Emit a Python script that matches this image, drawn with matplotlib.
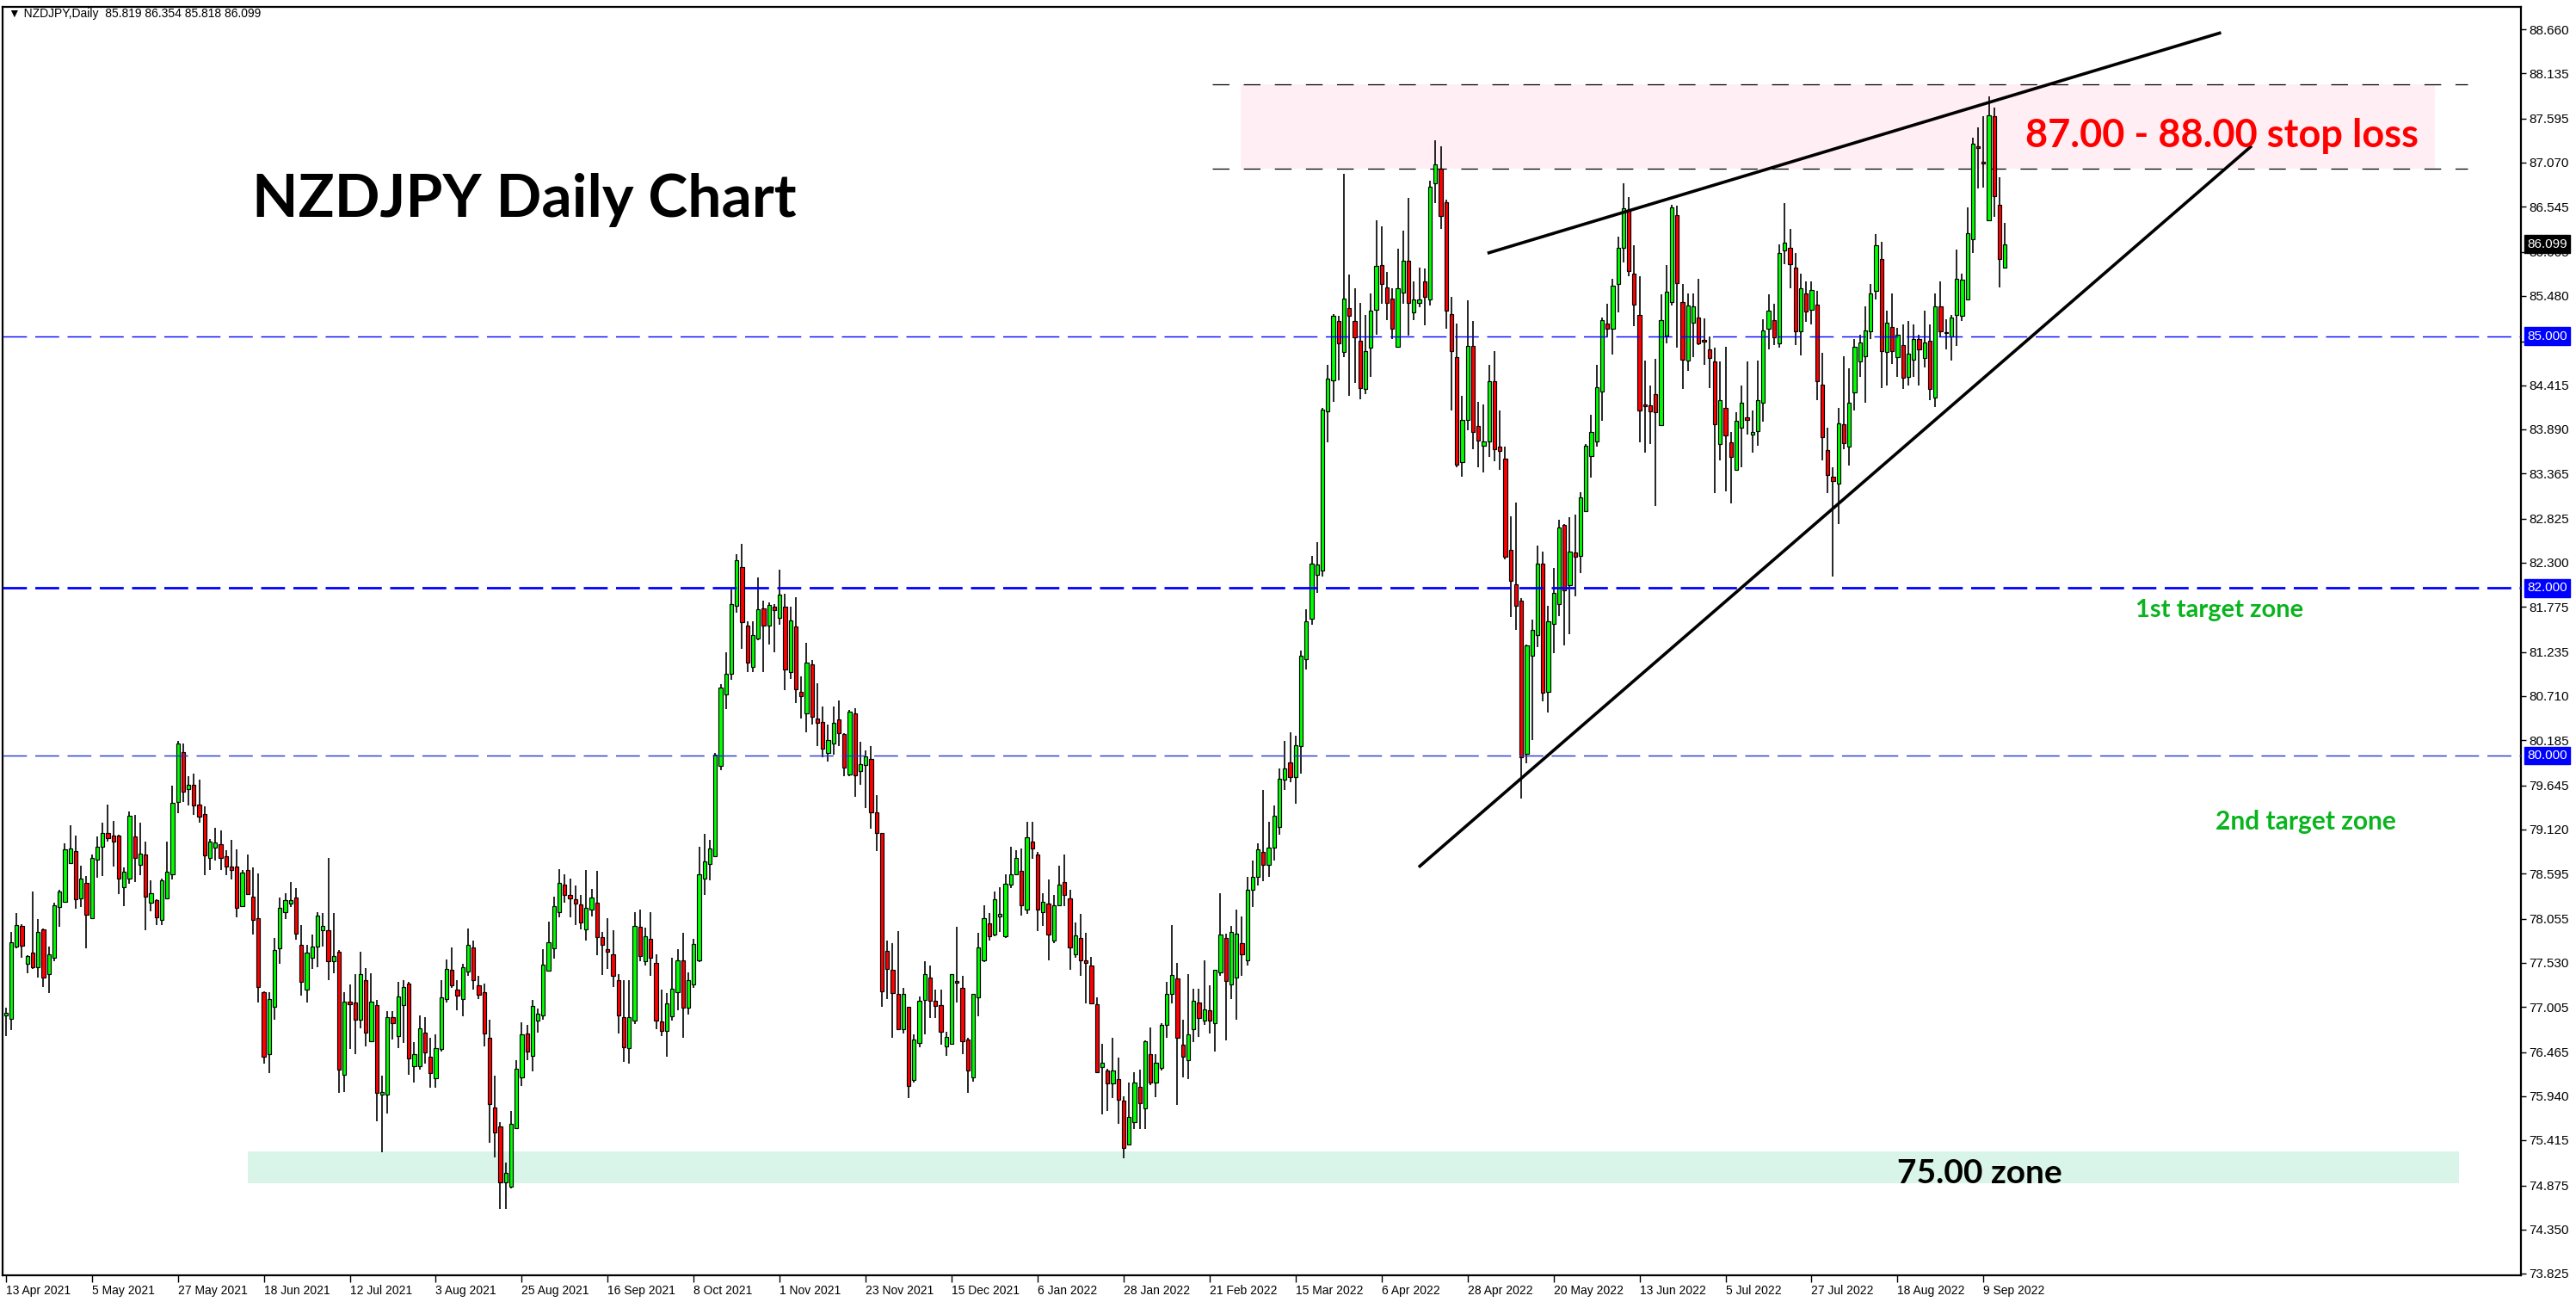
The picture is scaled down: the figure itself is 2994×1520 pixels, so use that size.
import matplotlib
matplotlib.use("Agg")
import matplotlib.pyplot as plt
from matplotlib.patches import Rectangle
from matplotlib.transforms import blended_transform_factory
import numpy as np

plt.rcParams['lines.scale_dashes'] = False

# ---------------- data (NZDJPY daily) ----------------
opens = [
76.90,76.86,77.72,77.97,77.52,77.65,77.48,77.93,77.39,77.59,
78.20,78.26,78.72,78.86,78.30,78.48,78.06,78.76,78.91,79.08,
79.05,79.05,78.43,78.53,79.04,78.70,78.82,78.25,78.28,78.04,
78.30,78.59,79.45,80.04,79.60,79.65,79.42,79.30,78.78,78.90,
78.94,78.80,78.68,78.68,78.21,78.64,78.32,78.06,77.18,76.44,
77.01,77.70,78.13,78.24,78.31,77.74,77.21,77.59,77.72,77.92,
77.92,77.55,77.66,76.19,77.07,77.06,76.85,77.32,76.59,77.03,
75.96,75.96,76.88,76.66,77.03,77.28,76.30,76.30,76.70,76.41,
76.15,76.50,77.10,77.45,77.21,77.10,77.43,77.71,77.26,77.18,
76.64,75.80,75.58,74.91,74.86,75.56,76.16,76.69,76.42,76.84,
76.90,77.44,77.70,78.13,78.46,78.34,78.29,78.23,77.93,78.16,
78.25,77.84,77.69,77.63,77.32,76.88,76.51,76.84,77.96,77.55,
77.82,77.53,76.83,76.72,76.89,77.18,77.56,76.99,77.27,77.56,
78.53,78.71,78.80,79.88,80.73,80.98,81.79,82.25,81.55,81.06,
81.40,81.76,81.55,81.78,81.64,81.78,81.00,81.54,80.76,80.50,
81.09,80.44,80.40,80.03,80.14,80.43,80.26,79.78,80.50,79.82,
79.89,79.96,79.32,79.08,77.67,77.45,77.16,76.74,77.00,76.13,
76.57,77.09,77.35,77.08,77.03,76.53,76.56,77.31,77.23,76.62,
76.16,77.12,77.56,78.00,77.87,78.08,77.85,78.46,78.59,78.63,
78.16,78.98,78.82,78.13,78.24,77.80,78.22,78.49,78.30,77.63,
77.83,77.56,77.50,77.04,76.29,76.25,76.09,76.14,75.89,75.36,
75.63,76.05,75.79,76.44,76.10,76.28,76.79,77.16,77.34,76.55,
76.37,76.74,77.06,76.84,76.96,76.81,77.42,77.83,77.27,77.35,
77.76,77.56,78.40,78.55,78.85,78.70,78.90,79.15,79.71,79.92,
79.74,80.11,81.15,81.63,82.16,82.21,84.10,84.47,85.18,84.81,
85.34,85.18,84.95,84.37,84.86,85.32,85.85,85.58,85.45,84.87,
85.52,85.90,85.28,85.40,85.65,85.44,86.82,87.00,86.60,85.26,
84.75,83.50,84.00,84.88,83.93,83.69,83.75,84.46,83.68,83.54,
82.45,82.04,81.85,80.02,81.19,81.44,82.29,80.76,81.57,81.81,
82.75,82.03,82.42,82.38,82.91,83.57,83.75,84.34,85.15,85.09,
85.62,86.05,86.51,85.75,85.25,84.19,84.18,84.31,83.94,85.01,
85.41,86.44,85.41,84.71,85.16,85.22,84.95,84.84,84.70,83.72,
84.15,83.74,83.41,83.91,84.03,83.83,83.87,84.21,85.09,85.19,
84.92,86.02,86.05,85.82,85.06,85.51,85.32,85.38,84.42,83.64,
83.33,83.24,83.95,83.68,84.33,84.70,84.76,85.06,85.54,85.92,
84.81,85.11,84.75,84.90,84.52,84.72,84.97,84.74,84.95,84.27,
85.36,85.05,85.00,85.25,85.24,85.44,86.16,87.27,87.08,86.38,
87.62,86.57,85.819]

highs = [
76.99,77.90,78.12,77.99,77.62,78.38,78.05,77.94,77.72,78.25,
78.40,78.95,79.17,79.05,78.69,78.56,78.82,79.04,79.20,79.42,
79.22,79.06,78.67,79.33,79.29,79.20,78.97,78.51,78.29,78.53,
78.97,79.64,80.18,80.14,79.75,79.79,79.71,79.40,79.01,79.14,
79.11,78.87,79.00,78.88,78.64,78.82,78.67,78.60,77.19,77.18,
77.83,78.31,78.36,78.49,78.42,77.98,77.74,77.87,78.13,78.12,
78.78,78.12,77.68,77.18,77.27,77.39,77.66,77.47,77.41,77.09,
76.18,76.95,76.95,77.30,77.32,77.30,76.58,76.90,76.88,76.64,
76.68,77.32,77.57,77.71,77.32,77.52,77.94,77.79,77.37,77.28,
76.85,76.18,75.63,75.15,75.76,76.37,76.82,76.79,77.09,76.98,
77.69,78.02,78.32,78.65,78.58,78.53,78.45,78.34,78.64,78.41,
78.63,77.90,78.06,77.92,77.39,77.32,77.32,78.13,78.16,77.95,
78.13,77.63,77.21,77.17,77.59,77.69,77.89,77.42,77.82,78.91,
79.07,79.00,80.03,80.85,81.23,81.98,82.40,82.52,81.60,81.60,
82.12,81.85,81.83,81.81,82.22,81.93,81.78,81.89,80.94,81.34,
81.14,80.86,80.59,80.37,80.59,80.66,80.27,80.54,80.57,80.17,
80.06,80.11,79.53,79.08,77.79,77.76,77.91,77.23,77.00,76.68,
77.13,77.55,77.50,77.21,77.21,76.71,77.40,77.96,77.37,76.64,
77.16,77.89,78.22,78.12,78.38,78.43,78.58,78.91,78.87,78.89,
79.21,79.21,78.85,78.36,78.52,78.34,78.69,78.82,78.40,78.01,
78.11,77.89,77.60,77.12,76.56,76.27,76.64,76.40,75.94,76.10,
76.23,76.26,76.60,76.76,76.44,76.81,77.30,77.98,77.53,76.85,
77.39,77.22,77.22,77.56,77.26,77.45,78.36,77.88,77.97,78.16,
78.08,78.55,78.75,78.95,79.59,79.21,79.41,79.85,80.18,80.28,
80.24,81.25,81.75,82.38,82.55,84.15,84.66,85.26,85.24,86.94,
85.74,85.57,85.40,85.25,85.51,86.38,86.31,85.77,85.57,86.04,
86.26,86.65,85.65,85.82,85.81,86.85,87.34,87.26,86.63,85.47,
85.15,84.29,85.43,85.18,84.22,84.19,84.66,84.82,84.12,83.68,
82.85,83.02,81.88,81.32,81.62,82.50,82.43,81.79,82.24,82.81,
82.76,82.84,82.87,83.14,83.72,84.06,84.66,85.22,85.39,85.69,
86.19,86.82,86.66,86.09,85.72,84.71,84.41,84.73,85.50,85.85,
86.57,86.56,85.62,85.51,85.51,85.68,85.21,85.00,84.86,84.70,
84.87,83.86,84.09,84.41,84.70,84.12,84.71,85.20,85.50,85.39,
86.10,86.59,86.28,85.99,85.75,85.65,85.65,85.54,84.80,83.91,
83.44,84.15,84.76,84.62,84.97,85.02,85.36,85.62,86.22,86.13,
85.31,85.51,85.10,85.14,85.18,85.14,85.02,85.31,85.14,85.51,
85.65,85.20,85.25,86.03,85.75,86.54,87.37,87.49,87.62,87.86,
87.73,86.90,86.354]

lows = [
76.66,76.73,77.70,77.59,77.41,77.46,77.35,77.24,77.17,77.55,
77.96,78.25,78.72,78.17,78.20,77.70,78.06,78.54,78.56,78.98,
78.68,78.35,78.21,78.47,78.49,78.57,77.92,78.14,77.98,77.98,
78.29,78.52,79.31,79.45,79.41,79.29,79.20,78.57,78.64,78.75,
78.64,78.57,78.52,78.07,78.20,78.34,77.87,77.06,76.33,76.22,
76.85,77.52,78.05,78.20,77.81,77.14,77.06,77.46,77.48,77.72,
77.32,77.41,75.98,75.99,76.50,76.44,76.75,76.53,76.59,75.64,
75.27,75.73,76.62,76.51,76.57,76.19,76.10,76.26,76.33,76.04,
76.04,76.47,77.06,77.23,76.96,76.89,77.37,77.21,77.10,76.53,
75.38,75.21,74.59,74.59,74.84,75.56,76.06,76.37,76.24,76.70,
76.85,77.43,77.58,78.07,78.25,78.07,77.98,77.93,77.79,78.08,
77.62,77.38,77.46,77.24,76.69,76.35,76.33,76.80,77.55,77.50,
77.37,76.74,76.66,76.41,76.84,76.96,76.64,76.91,77.23,77.54,
78.34,78.51,78.79,79.83,80.55,80.90,81.70,81.27,81.00,81.00,
81.38,81.00,81.32,81.23,81.56,80.78,80.91,80.63,80.44,80.28,
80.37,80.11,79.98,79.93,80.01,80.11,79.75,79.75,79.51,79.65,
79.38,79.13,78.86,77.00,77.10,76.64,76.74,76.69,75.92,76.10,
76.52,76.68,76.87,76.87,76.55,76.42,76.55,77.06,76.44,75.98,
76.11,76.89,77.54,77.80,77.85,77.90,77.83,78.42,78.57,78.09,
78.11,78.77,77.91,77.97,77.56,77.76,78.21,78.21,77.45,77.59,
77.37,77.05,77.04,76.21,75.72,75.76,75.92,75.61,75.20,75.35,
75.55,75.55,75.55,76.07,75.93,76.25,76.64,77.05,75.84,76.16,
76.14,76.58,76.65,76.79,76.69,76.47,77.37,76.60,77.10,76.85,
77.37,77.50,78.20,78.45,78.50,78.55,78.75,79.06,79.59,79.68,
79.43,79.79,81.03,81.56,81.94,82.13,83.74,84.22,84.47,84.75,
84.29,84.44,84.25,84.31,84.52,85.02,85.39,85.19,84.97,84.87,
85.39,85.01,85.19,85.35,85.13,85.37,86.59,86.28,85.09,84.12,
83.44,83.32,83.88,83.65,83.44,83.38,83.56,83.51,83.41,82.34,
81.65,81.50,79.49,79.91,80.19,81.29,80.65,80.51,81.22,81.66,
81.31,81.45,81.90,82.18,82.91,83.31,83.68,83.99,85.00,84.78,
85.28,85.88,85.72,85.12,83.74,83.61,83.71,82.98,83.94,84.92,
85.37,84.86,84.37,84.59,84.75,84.90,84.66,84.38,83.13,83.52,
83.15,83.01,83.40,83.44,83.83,83.61,83.69,83.98,84.84,84.89,
84.86,85.86,85.57,84.89,84.77,85.17,85.14,84.24,83.52,83.13,
82.14,82.76,83.65,83.46,84.12,84.52,84.21,84.97,85.44,84.38,
84.41,84.67,84.52,84.37,84.41,84.52,84.41,84.63,84.24,84.16,
85.00,84.84,84.71,84.88,85.18,85.43,85.99,86.76,86.77,86.37,
86.42,85.58,85.818]

closes = [
76.93,77.77,77.98,77.73,77.61,77.48,77.90,77.35,77.63,78.22,
78.38,78.88,78.89,78.29,78.53,78.10,78.78,78.91,79.08,79.02,
78.97,78.53,78.62,79.28,78.78,78.83,78.32,78.36,78.07,78.51,
78.62,79.44,80.14,79.57,79.65,79.41,79.27,78.81,78.97,78.96,
78.78,78.68,78.64,78.19,78.61,78.35,78.04,77.24,76.41,77.10,
77.68,78.19,78.28,78.28,77.88,77.30,77.65,77.72,78.09,77.97,
77.55,77.61,76.26,77.07,77.04,76.85,77.39,76.70,77.07,75.98,
75.99,76.88,76.81,77.13,77.24,76.39,76.44,76.75,76.46,76.22,
76.51,77.12,77.46,77.26,77.14,77.48,77.74,77.32,77.15,76.69,
75.85,75.51,74.91,75.03,75.61,76.27,76.68,76.47,77.02,76.92,
77.51,77.77,78.21,78.48,78.34,78.30,78.24,78.01,78.18,78.31,
77.84,77.74,77.66,77.37,76.90,76.52,76.88,77.97,77.61,77.85,
77.59,76.84,76.72,77.05,77.22,77.56,76.99,77.32,77.75,78.59,
78.74,78.89,80.01,80.81,80.98,81.81,82.33,81.59,81.11,81.44,
81.75,81.55,81.80,81.73,81.92,81.03,81.61,80.79,80.71,81.11,
80.46,80.39,80.08,80.19,80.39,80.27,79.86,80.52,79.76,79.90,
79.99,79.32,79.08,77.19,77.46,77.17,76.74,77.16,76.06,76.62,
77.08,77.39,77.08,77.02,76.71,76.65,77.39,77.29,76.59,76.25,
77.16,77.71,78.06,77.85,78.29,78.11,78.47,78.59,78.78,78.22,
79.03,78.89,78.16,78.26,77.87,78.22,78.46,78.34,77.71,77.86,
77.56,77.53,77.05,76.23,76.34,76.09,76.25,75.90,75.32,75.69,
76.10,75.86,76.59,76.10,76.34,76.79,77.16,77.38,76.64,76.41,
76.68,77.08,76.87,76.97,76.84,77.45,77.87,77.31,77.90,77.88,
77.63,78.40,78.55,78.88,78.70,78.90,79.28,79.72,79.85,79.74,
80.12,81.19,81.60,82.29,82.28,84.13,84.49,85.24,84.92,85.45,
85.24,84.99,84.38,84.82,85.31,85.84,85.62,85.40,85.09,85.57,
85.90,85.40,85.44,85.44,85.47,86.78,87.05,86.43,85.31,84.82,
83.47,84.00,84.88,83.86,83.76,83.75,84.46,83.65,83.63,82.37,
82.08,81.79,79.98,81.31,81.50,82.29,80.75,81.60,81.94,82.72,
81.97,82.43,82.37,83.08,83.69,83.86,84.39,85.19,85.09,85.60,
86.05,86.53,85.78,85.38,84.12,84.17,84.10,84.09,85.19,85.53,
86.54,85.63,84.72,85.37,85.36,84.92,84.94,84.74,83.95,84.24,
83.82,83.56,83.99,84.21,84.00,83.86,84.24,85.07,85.31,84.99,
85.99,86.12,85.86,85.06,85.57,85.30,85.55,84.46,83.80,83.35,
83.27,83.96,83.73,84.21,84.87,84.93,85.07,85.51,86.08,84.82,
85.16,84.82,85.02,84.51,84.79,84.97,84.84,84.93,84.37,85.36,
85.06,85.04,85.22,85.68,85.67,86.23,87.30,87.24,87.06,87.63,
86.67,85.92,86.099]

date_labels = ['13 Apr 2021', '5 May 2021', '27 May 2021', '18 Jun 2021', '12 Jul 2021',
               '3 Aug 2021', '25 Aug 2021', '16 Sep 2021', '8 Oct 2021', '1 Nov 2021',
               '23 Nov 2021', '15 Dec 2021', '6 Jan 2022', '28 Jan 2022', '21 Feb 2022',
               '15 Mar 2022', '6 Apr 2022', '28 Apr 2022', '20 May 2022', '13 Jun 2022',
               '5 Jul 2022', '27 Jul 2022', '18 Aug 2022', '9 Sep 2022']
date_label_bars = list(range(0, 16 * len(date_labels), 16))

price_ticks = [88.660, 88.135, 87.595, 87.070, 86.545, 86.005, 85.480, 84.940, 84.415,
               83.890, 83.365, 82.825, 82.300, 81.775, 81.235, 80.710, 80.185, 79.645,
               79.120, 78.595, 78.055, 77.530, 77.005, 76.465, 75.940, 75.415, 74.875,
               74.350, 73.825]

level_lines = [85.0, 82.0, 80.0]
stop_zone = (87.0, 88.0)
support_zone = (74.90, 75.28)
upper_trend = ([275.7, 412.2], [85.99, 88.62])
lower_trend = ([262.9, 417.9], [78.67, 87.27])
last_price = 86.099

# ---------------- figure ----------------
W, H = 2994, 1520
fig = plt.figure(figsize=(W / 100, H / 100), dpi=100)
fig.patch.set_facecolor('white')
ax = fig.add_axes([3 / W, 38 / H, (2930 - 3) / W, (1482 - 8) / H])
ax.set_xlim(-0.6, 468)
ax.set_ylim(73.804, 88.927)

o = np.array(opens); h = np.array(highs); l = np.array(lows); c = np.array(closes)
h = np.maximum(h, np.maximum(o, c))
l = np.minimum(l, np.minimum(o, c))
x = np.arange(len(c))
up = c >= o
body_col = np.where(up, '#00FF00', '#FF0000')

# background zones
ax.add_patch(Rectangle((229.8, stop_zone[0]), 452 - 229.8, stop_zone[1] - stop_zone[0],
                       facecolor='#FFEEF3', edgecolor='none', zorder=0.5))
ax.add_patch(Rectangle((45.0, support_zone[0]), 456.5 - 45.0, support_zone[1] - support_zone[0],
                       facecolor='#D9F5EA', edgecolor='none', zorder=0.5))
for lv in stop_zone:
    ax.plot([224.5, 458], [lv, lv], color='black', lw=0.9, dashes=(14, 12), zorder=1)

# candles
ax.vlines(x, l, h, color='black', lw=1.2, zorder=3)
ax.bar(x, np.maximum(np.abs(c - o), 0.012), bottom=np.minimum(o, c), width=0.68,
       color=body_col, edgecolor='black', linewidth=0.85, zorder=4)

# horizontal level lines
ax.axhline(85.0, color='#0000FF', lw=1.0, dashes=(20, 7), zorder=5)
ax.axhline(82.0, color='#0000FF', lw=2.0, dashes=(20, 7), zorder=5)
ax.axhline(80.0, color='#2233CC', lw=1.0, dashes=(20, 7), zorder=5)

# trend lines
ax.plot(*upper_trend, color='black', lw=2.6, solid_capstyle='butt', zorder=6)
ax.plot(*lower_trend, color='black', lw=2.6, solid_capstyle='butt', zorder=6)

# annotations
ax.text(45.9, 86.42, 'NZDJPY Daily Chart', family='Lato', fontweight='bold',
        fontsize=50, color='black', ha='left', va='baseline', zorder=7)
ax.text(375.8, 87.25, '87.00 - 88.00 stop loss', family='Lato', fontweight='bold',
        fontsize=32.5, color='#FF0000', ha='left', va='baseline', zorder=7)
ax.text(352.0, 74.90, '75.00 zone', family='Lato', fontweight='bold',
        fontsize=28, color='black', ha='left', va='baseline', zorder=7)
ax.text(396.3, 81.65, '1st target zone', family='Lato', fontweight='bold',
        fontsize=21, color='#0AB41E', ha='left', va='baseline', zorder=7)
ax.text(411.2, 79.12, '2nd target zone', family='Lato', fontweight='bold',
        fontsize=21.5, color='#0AB41E', ha='left', va='baseline', zorder=7)

# axes styling
for sp in ax.spines.values():
    sp.set_color('black'); sp.set_linewidth(1.6)
ax.yaxis.tick_right()
ax.set_yticks(price_ticks)
ax.set_yticklabels([f'{v:.3f}' for v in price_ticks])
ax.tick_params(axis='y', direction='out', length=4, width=1, pad=3, labelsize=11,
               labelcolor='black')
ax.set_xticks(date_label_bars)
ax.set_xticklabels(date_labels)
ax.tick_params(axis='x', direction='out', length=6, width=1, pad=2, labelsize=10)
for t in ax.get_xticklabels():
    t.set_horizontalalignment('left')
for t in ax.get_xticklabels() + ax.get_yticklabels():
    t.set_family('Liberation Sans')

# price label boxes on the right axis
trans = blended_transform_factory(ax.transAxes, ax.transData)
for lv, txt, fc in [(85.0, '85.000', '#0000FF'), (82.0, '82.000', '#0000FF'),
                    (80.0, '80.000', '#0000FF'), (last_price, '86.099', 'black')]:
    ax.annotate(txt, xy=(1.0, lv), xycoords=trans, xytext=(5, 0), textcoords='offset points',
                ha='left', va='center', color='white', fontsize=11, family='Liberation Sans',
                bbox=dict(boxstyle='square,pad=0.22', fc=fc, ec=fc), annotation_clip=False,
                zorder=10)

# header
fig.text(10 / W, 1 - 16 / H, '\u25BC NZDJPY,Daily  85.819 86.354 85.818 86.099',
         fontsize=10, family=['Liberation Sans', 'DejaVu Sans'], color='black',
         ha='left', va='center')

fig.savefig('out.png', dpi=100, facecolor='white')
